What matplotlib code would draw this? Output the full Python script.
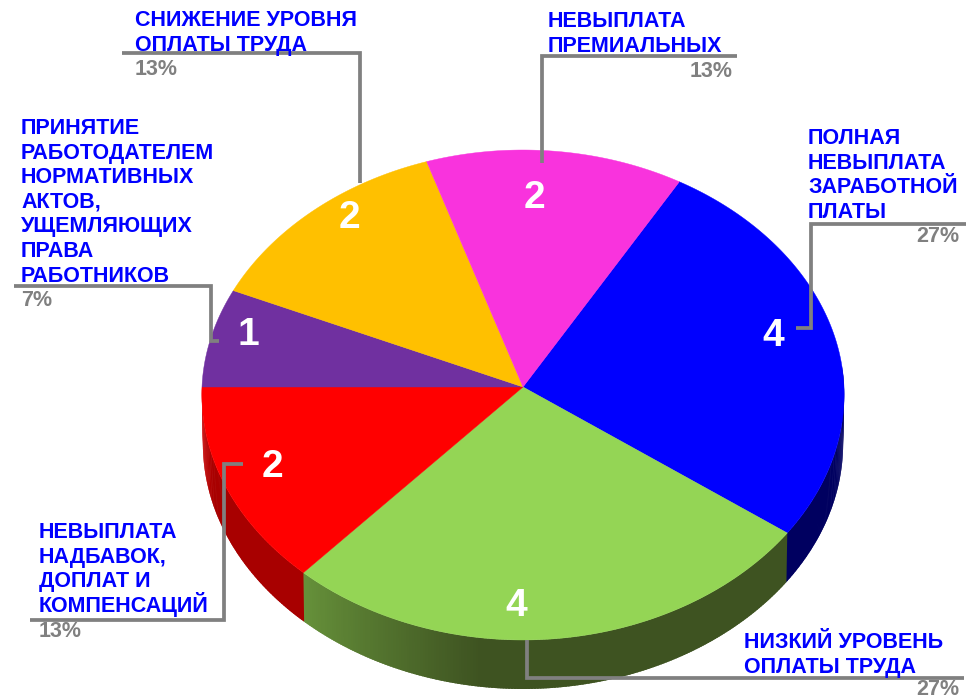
import numpy as np
import matplotlib
matplotlib.use('Agg')
import matplotlib.pyplot as plt

plt.rcParams['font.family'] = ['Liberation Sans', 'DejaVu Sans']

# clockwise from the blue slice
categories = ['ПОЛНАЯ\nНЕВЫПЛАТА\nЗАРАБОТНОЙ\nПЛАТЫ',
              'НИЗКИЙ УРОВЕНЬ\nОПЛАТЫ ТРУДА',
              'НЕВЫПЛАТА\nНАДБАВОК,\nДОПЛАТ И\nКОМПЕНСАЦИЙ',
              'ПРИНЯТИЕ\nРАБОТОДАТЕЛЕМ\nНОРМАТИВНЫХ\nАКТОВ,\nУЩЕМЛЯЮЩИХ\nПРАВА\nРАБОТНИКОВ',
              'СНИЖЕНИЕ УРОВНЯ\nОПЛАТЫ ТРУДА',
              'НЕВЫПЛАТА\nПРЕМИАЛЬНЫХ']
values = [4, 4, 2, 1, 2, 2]
percents = ['27%', '27%', '13%', '7%', '13%', '13%']

top_colors = ['#0000ff', '#94d555', '#ff0000', '#7030a0', '#ffc000', '#f933dd']
side_left = ['#000060', '#66913a', '#d40000', '#7030a0', '#ffc000', '#f933dd']
side_right = ['#000060', '#3e5321', '#a80000', '#7030a0', '#ffc000', '#f933dd']

# layout, in pixels of the 966x699 picture
cx, cy = 523, 387
rx, ry_up, ry_down = 321, 237, 246
rx_low, cy_low = 320, 436
start = 30
line_h = 24.6

# baseline of the first line of each label
name_pos = [(808, 144), (744, 648), (39, 538), (21, 134), (135, 26), (548, 27)]
pct_pos = [(959, 242, 'right'), (959, 695, 'right'), (39, 637, 'left'),
           (21, 306, 'left'), (135, 75, 'left'), (733, 77, 'right')]
num_pos = [(773, 346), (516, 616), (272, 477), (248, 345), (349, 228), (534, 208)]
leaders = [[(966, 224), (811, 224), (811, 328), (796, 328)],
           [(527, 640), (527, 678), (964, 678)],
           [(243, 464), (224, 464), (224, 620), (30, 620)],
           [(14, 286), (211, 286), (211, 341), (219, 341)],
           [(122, 53), (360, 53), (360, 183)],
           [(737, 56), (542, 56), (542, 163)]]


def rim(theta):
    # theta in degrees, clockwise from 12 o'clock, slight perspective on x
    t = np.radians(theta)
    c = np.cos(t)
    x = cx + rx * np.sin(t) * (1 - 0.03 * c)
    y = np.where(c > 0, cy - ry_up * c, cy - ry_down * c - 7 * c ** 3)
    return x, y


def rim_low(theta):
    t = np.radians(theta)
    c = np.cos(t)
    x = cx + rx_low * np.sin(t) * (1 - 0.03 * c)
    y = cy_low - ry_down * c - 7 * c ** 3
    return x, y


fig = plt.figure(figsize=(9.66, 6.99), dpi=100)
ax = fig.add_axes([0, 0, 1, 1])
ax.set_xlim(0, 966)
ax.set_ylim(699, 0)
ax.axis('off')

edges = start + 360 * np.concatenate(([0], np.cumsum(values))) / sum(values)

# side wall, only the front part shows
for i in range(len(values)):
    a, b = edges[i], edges[i + 1]
    steps = np.linspace(a, b, int((b - a) * 2) + 2)
    c0 = np.array(matplotlib.colors.to_rgb(side_left[i]))
    c1 = np.array(matplotlib.colors.to_rgb(side_right[i]))
    for s0, s1 in zip(steps[:-1], steps[1:]):
        mid = (s0 + s1) / 2
        if mid < 85 or mid > 270:
            continue
        # fraction measured from the left end of the slice
        f = min((b - mid) / (b - a) / 0.36, 1)
        col = c0 + (c1 - c0) * f
        # overlap the next strip a little so no seams show
        x0, y0 = rim(s0)
        x1, y1 = rim(s1 + 0.4)
        x2, y2 = rim_low(s1 + 0.4)
        x3, y3 = rim_low(s0)
        ax.fill([x0, x1, x2, x3], [y0, y1, y2, y3], color=col, lw=0, zorder=1)

# top face
for i in range(len(values)):
    th = np.linspace(edges[i], edges[i + 1], 200)
    xs, ys = rim(th)
    ax.fill(np.r_[cx, xs], np.r_[cy, ys], color=top_colors[i], lw=0.3, zorder=2)

for pts in leaders:
    ax.plot([p[0] for p in pts], [p[1] for p in pts], color='#808080', lw=2.7,
            solid_joinstyle='miter', solid_capstyle='butt', zorder=3)

for i in range(len(values)):
    x, y = name_pos[i]
    for k, line in enumerate(categories[i].split('\n')):
        ax.text(x, y + k * line_h, line, color='#0000ff', fontsize=15.5, fontweight='bold',
                ha='left', va='baseline', zorder=4)
    x, y, ha = pct_pos[i]
    ax.text(x, y, percents[i], color='#808080', fontsize=15.5, fontweight='bold',
            ha=ha, va='baseline', zorder=4)
    x, y = num_pos[i]
    ax.text(x, y, str(values[i]), color='white', fontsize=28, fontweight='bold',
            ha='center', va='baseline', zorder=4)

fig.savefig('out.png', dpi=100)
